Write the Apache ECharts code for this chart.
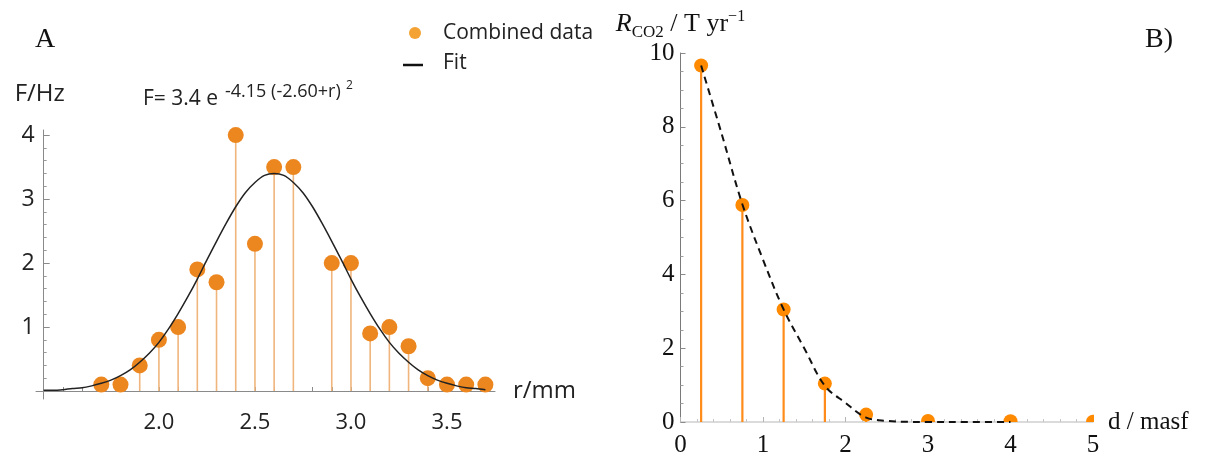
<!DOCTYPE html>
<html>
<head>
<meta charset="utf-8">
<script src="https://cdn.jsdelivr.net/npm/echarts@6/dist/echarts.min.js"></script>
<style>
  html, body { margin: 0; padding: 0; background: #fff; }
  #chart { width: 1212px; height: 458px; }
</style>
</head>
<body>
<div id="chart"></div>
<script>
// ---- Panel A: combined frequency data vs radius ----
const radius    = [1.7, 1.8, 1.9, 2.0, 2.1, 2.2, 2.3, 2.4, 2.5, 2.6, 2.7, 2.9, 3.0, 3.1, 3.2, 3.3, 3.4, 3.5, 3.6, 3.7];
const frequency = [0.1, 0.1, 0.4, 0.8, 1.0, 1.9, 1.7, 4.0, 2.3, 3.5, 3.5, 2.0, 2.0, 0.9, 1.0, 0.7, 0.2, 0.1, 0.1, 0.1];

// Gaussian fit curve, sampled along r
const fitRadius = [1.40, 1.45, 1.50, 1.55, 1.60, 1.65, 1.70, 1.75, 1.80, 1.85, 1.90, 1.95, 2.00, 2.05, 2.10, 2.15,
                   2.20, 2.25, 2.30, 2.35, 2.40, 2.45, 2.50, 2.55, 2.60, 2.65, 2.70, 2.75, 2.80, 2.85, 2.90, 2.95,
                   3.00, 3.05, 3.10, 3.15, 3.20, 3.25, 3.30, 3.35, 3.40, 3.45, 3.50, 3.55, 3.60, 3.65, 3.70];
const fitFreq   = [0.01, 0.01, 0.02, 0.04, 0.05, 0.08, 0.12, 0.17, 0.24, 0.33, 0.45, 0.59, 0.76, 0.97, 1.21, 1.47,
                   1.75, 2.05, 2.34, 2.62, 2.88, 3.10, 3.26, 3.37, 3.40, 3.37, 3.26, 3.10, 2.88, 2.62, 2.34, 2.05,
                   1.75, 1.47, 1.21, 0.97, 0.76, 0.59, 0.45, 0.33, 0.24, 0.17, 0.12, 0.08, 0.05, 0.04, 0.02];

const rLabels  = [2.0, 2.5, 3.0, 3.5];
const rTicks   = [1.5, 1.6, 1.7, 1.8, 1.9, 2.0, 2.1, 2.2, 2.3, 2.4, 2.5, 2.6, 2.7, 2.8, 2.9, 3.0, 3.1, 3.2, 3.3, 3.4, 3.5, 3.6, 3.7];
const fLabels  = [1, 2, 3, 4];
const fMinor   = [0.2, 0.4, 0.6, 0.8, 1.2, 1.4, 1.6, 1.8, 2.2, 2.4, 2.6, 2.8, 3.2, 3.4, 3.6, 3.8];

// ---- Panel B: CO2 rate vs distance ----
const distance = [0.25, 0.75, 1.25, 1.75, 2.25, 3, 4, 5];
const rate     = [9.66, 5.88, 3.05, 1.04, 0.20, 0.03, 0.02, 0.01];
const rateFitDistance = [0.25, 0.5, 0.75, 1.0, 1.25, 1.5, 1.75, 2.0, 2.25, 2.5, 2.75, 3.0, 3.5, 4.0];
const rateFitValue    = [9.66, 7.8, 5.9, 4.4, 3.05, 2.0, 0.98, 0.52, 0.12, 0.03, 0.005, 0, 0, 0];

const SANS  = 'Open Sans';
const SERIF = 'Liberation Serif';

const chart = echarts.init(document.getElementById('chart'), null, { renderer: 'canvas' });

// vertical stem from the baseline to a data value
function stem(api, color, width) {
  const x = api.value(0), y = api.value(1);
  const p0 = api.coord([x, 0]);
  const p1 = api.coord([x, y]);
  return { type: 'line', shape: { x1: p0[0], y1: p0[1], x2: p1[0], y2: p1[1] },
           style: { stroke: color, lineWidth: width } };
}

const option = {
  animation: false,
  backgroundColor: '#fff',
  grid: [
    { left: 36, top: 130, width: 459, height: 269 },
    { left: 680.5, top: 53, width: 412.5, height: 371 }
  ],
  xAxis: [
    {
      gridIndex: 0, type: 'value', min: 1.36, max: 3.75,
      axisLine: { onZero: true, lineStyle: { color: '#8a8a8a', width: 1 } },
      axisTick: { show: true, inside: true, length: 4, customValues: rTicks, lineStyle: { color: '#8a8a8a' } },
      axisLabel: { customValues: rLabels, formatter: v => v.toFixed(1), fontFamily: SANS, fontSize: 22, color: '#222', margin: 13 },
      splitLine: { show: false },
      name: 'r/mm', nameLocation: 'end', nameGap: 18,
      nameTextStyle: { fontFamily: SANS, fontSize: 24, color: '#222', verticalAlign: 'middle' }
    },
    {
      gridIndex: 1, type: 'value', min: 0, max: 5, interval: 1,
      axisLine: { lineStyle: { color: '#cfcfcf', width: 1.5 } },
      axisTick: { inside: true, length: 5, lineStyle: { color: '#b5b5b5' } },
      minorTick: { show: true, splitNumber: 5, length: 3, lineStyle: { color: '#c5c5c5' } },
      axisLabel: { fontFamily: SERIF, fontSize: 25, color: '#111', margin: 11 },
      splitLine: { show: false },
      name: 'd / masf', nameLocation: 'end', nameGap: 15,
      nameTextStyle: { fontFamily: SERIF, fontSize: 25, color: '#111', verticalAlign: 'middle' }
    }
  ],
  yAxis: [
    {
      gridIndex: 0, type: 'value', position: 'left', min: -0.125, max: 4.08, offset: -7.7,
      axisLine: { show: true, lineStyle: { color: '#8a8a8a', width: 1 } },
      axisTick: { show: true, inside: true, length: 6, customValues: fLabels, lineStyle: { color: '#8a8a8a' } },
      axisLabel: { customValues: fLabels, fontFamily: SANS, fontSize: 23, color: '#222', margin: 9 },
      splitLine: { show: false },
      name: 'F/Hz', nameLocation: 'end', nameGap: 24,
      nameTextStyle: { fontFamily: SANS, fontSize: 24, color: '#222', padding: [0, 8, 0, 0] }
    },
    {
      gridIndex: 0, type: 'value', position: 'left', min: -0.125, max: 4.08, offset: -7.7,
      axisLine: { show: false },
      axisTick: { show: true, inside: true, length: 3, customValues: fMinor, lineStyle: { color: '#9a9a9a' } },
      axisLabel: { show: false },
      splitLine: { show: false }
    },
    {
      gridIndex: 1, type: 'value', min: 0, max: 10, interval: 2,
      axisLine: { show: true, lineStyle: { color: '#7a7a7a', width: 1 } },
      axisTick: { show: true, inside: true, length: 5, lineStyle: { color: '#8a8a8a' } },
      minorTick: { show: true, splitNumber: 4, length: 3, lineStyle: { color: '#a0a0a0' } },
      axisLabel: { fontFamily: SERIF, fontSize: 25, color: '#111', margin: 6 },
      splitLine: { show: false },
      name: '{r|R}{c|CO2}{t| / T yr}{e|\u22121}', nameLocation: 'end', nameGap: 12,
      nameTextStyle: {
        fontFamily: SERIF, color: '#111',
        rich: {
          r: { fontFamily: SERIF, fontStyle: 'italic', fontSize: 26, lineHeight: 32, verticalAlign: 'middle', color: '#111' },
          c: { fontFamily: SERIF, fontSize: 17, lineHeight: 32, verticalAlign: 'bottom', color: '#111' },
          t: { fontFamily: SERIF, fontSize: 26, lineHeight: 32, verticalAlign: 'middle', color: '#111' },
          e: { fontFamily: SERIF, fontSize: 16, lineHeight: 32, verticalAlign: 'top', color: '#111' }
        }
      }
    }
  ],
  series: [
    {
      name: 'stems A', type: 'custom', xAxisIndex: 0, yAxisIndex: 0, z: 2,
      data: radius.map((r, i) => [r, frequency[i]]),
      renderItem: (params, api) => stem(api, '#f0b57c', 1.6)
    },
    {
      name: 'Combined data', type: 'scatter', xAxisIndex: 0, yAxisIndex: 0, z: 3,
      symbol: 'circle', symbolSize: 16,
      itemStyle: { color: '#ec861f', opacity: 1 },
      data: radius.map((r, i) => [r, frequency[i]])
    },
    {
      name: 'Fit', type: 'line', xAxisIndex: 0, yAxisIndex: 0, z: 4,
      showSymbol: false, smooth: 0.3,
      lineStyle: { color: '#222', width: 1.5 },
      data: fitRadius.map((r, i) => [r, fitFreq[i]])
    },
    {
      name: 'rate', type: 'custom', xAxisIndex: 1, yAxisIndex: 2, z: 3, clip: true,
      data: distance.map((d, i) => [d, rate[i]]),
      renderItem: (params, api) => {
        const c = api.coord([api.value(0), api.value(1)]);
        return {
          type: 'group',
          children: [
            stem(api, '#ff8c1a', 2.2),
            { type: 'circle', shape: { cx: c[0], cy: c[1], r: 7 }, style: { fill: '#ff8a00' } }
          ]
        };
      }
    },
    {
      name: 'rate fit', type: 'line', xAxisIndex: 1, yAxisIndex: 2, z: 4,
      showSymbol: false, smooth: 0.35,
      lineStyle: { color: '#111', width: 2, type: [7, 5] },
      data: rateFitDistance.map((d, i) => [d, rateFitValue[i]])
    }
  ],
  graphic: [
    { type: 'text', left: 35, top: 26, style: { text: 'A', font: '28px "Liberation Serif"', fill: '#111' } },
    { type: 'text', left: 1145, top: 26, style: { text: 'B)', font: '28px "Liberation Serif"', fill: '#111' } },
    // fit formula
    { type: 'text', x: 143, y: 110, style: { text: 'F= 3.4 e', font: '21px "Open Sans"', fill: '#222', verticalAlign: 'bottom' } },
    { type: 'text', x: 225, y: 101, style: { text: '-4.15 (-2.60+r)', font: '18px "Open Sans"', fill: '#222', verticalAlign: 'bottom' } },
    { type: 'text', x: 346, y: 92, style: { text: '2', font: '12px "Open Sans"', fill: '#222', verticalAlign: 'bottom' } },
    // legend
    { type: 'circle', shape: { cx: 415, cy: 33, r: 6 }, style: { fill: '#f4a233' } },
    { type: 'text', x: 443, y: 33, style: { text: 'Combined data', font: '21px "Open Sans"', fill: '#222', verticalAlign: 'middle' } },
    { type: 'line', shape: { x1: 403, y1: 65, x2: 423, y2: 65 }, style: { stroke: '#111', lineWidth: 2.5 } },
    { type: 'text', x: 443, y: 63, style: { text: 'Fit', font: '21px "Open Sans"', fill: '#222', verticalAlign: 'middle' } }
  ]
};

chart.setOption(option);
</script>
</body>
</html>
